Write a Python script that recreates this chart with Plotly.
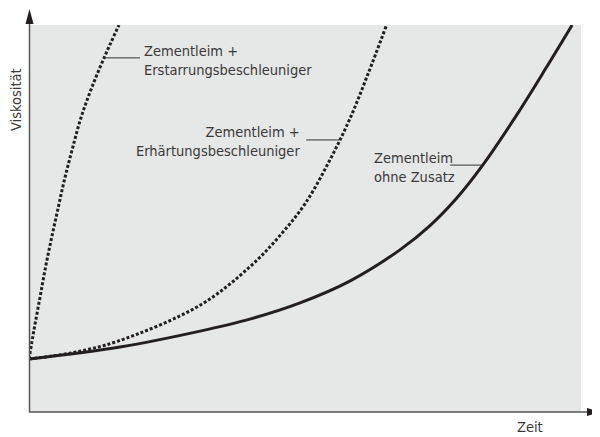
import plotly.graph_objects as go

# Data (arbitrary units: time 0-100, viscosity 0-100)
# Zementleim ohne Zusatz
t_ohne = [0, 16.5, 31.0, 40.0, 49.1, 58.2, 67.2, 72.6, 77.5, 82.1, 88.6, 93.8, 98.4]
v_ohne = [13.7, 16.8, 20.9, 24.0, 28.2, 33.9, 41.9, 48.1, 55.3, 63.6, 77.3, 89.2, 100]

# Zementleim + Erhärtungsbeschleuniger
t_erh = [0, 7.4, 16.1, 31.0, 40.0, 45.1, 50.0, 54.5, 58.2, 61.4, 64.7]
v_erh = [13.7, 15.2, 18.3, 27.6, 37.5, 45.0, 53.8, 65.1, 76.0, 87.3, 99.7]

# Zementleim + Erstarrungsbeschleuniger
t_ers = [0, 0.9, 1.9, 2.9, 4.0, 5.2, 6.4, 7.8, 9.3, 11.2, 13.6, 16.3]
v_ers = [13.7, 21.2, 28.9, 36.7, 44.4, 52.2, 59.9, 67.7, 75.5, 83.2, 91.5, 100]

labels = [
    "Zementleim +<br>Erstarrungsbeschleuniger",
    "Zementleim +<br>Erhärtungsbeschleuniger",
    "Zementleim<br>ohne Zusatz",
]
x_title = "Zeit"
y_title = "Viskosität"

INK = "#231f20"
TXT = "#3a3a3a"
FONT = "DejaVu Sans Condensed, Liberation Sans Narrow, Roboto, sans-serif"

# page-pixel geometry of the plot area (page has an 8px body margin)
OFF = 8
L, R, T, B = 29, 581, 25, 412
W, H = float(R - L), float(B - T)


def px(x):
    return (x - L) / W


def py(y):
    return (B - y) / H


fig = go.Figure()
fig.add_trace(go.Scatter(x=t_ohne, y=v_ohne, mode="lines",
                         line=dict(color=INK, width=3, shape="spline", smoothing=1)))
fig.add_trace(go.Scatter(x=t_erh, y=v_erh, mode="lines",
                         line=dict(color=INK, width=3, dash="3px,2px", shape="spline", smoothing=1)))
fig.add_trace(go.Scatter(x=t_ers, y=v_ers, mode="lines",
                         line=dict(color=INK, width=3, dash="3px,2px", shape="spline", smoothing=1)))

lab_font = dict(family=FONT, size=14.5, color=TXT)
fig.add_annotation(x=20.5, y=90.7, text=labels[0], xanchor="left", yanchor="middle",
                   showarrow=False, align="left", font=lab_font)
fig.add_annotation(x=49.5, y=70.0, text=labels[1], xanchor="right", yanchor="middle",
                   showarrow=False, align="right", font=lab_font)
fig.add_annotation(x=62.1, y=63.3, text=labels[2], xanchor="left", yanchor="middle",
                   showarrow=False, align="left", font=lab_font)

# leader lines
lc = dict(color="#333333", width=1)
fig.add_shape(type="line", x0=13.6, x1=20.1, y0=91.5, y1=91.5, line=lc)
fig.add_shape(type="line", x0=50.2, x1=56.3, y0=70.3, y1=70.3, line=lc)
fig.add_shape(type="line", x0=76.3, x1=82.1, y0=63.8, y1=63.8, line=lc)

# Axes with arrows
ax = dict(color="#555555", width=1.5)
fig.add_shape(type="line", xref="paper", yref="paper", x0=px(29.5), x1=px(29.5),
              y0=0, y1=py(22), line=ax)
fig.add_shape(type="line", xref="paper", yref="paper", x0=0, x1=px(590),
              y0=0, y1=0, line=ax)
fig.add_shape(type="path", xref="paper", yref="paper",
              path=f"M {px(25.5)} {py(24)} L {px(29.5)} {py(9)} L {px(33.5)} {py(24)} Z",
              fillcolor=INK, line=dict(width=0))
fig.add_shape(type="path", xref="paper", yref="paper",
              path=f"M {px(587)} {py(408)} L {px(600)} {py(412)} L {px(587)} {py(416)} Z",
              fillcolor=INK, line=dict(width=0))

ax_font = dict(family=FONT, size=14.5, color=TXT)
fig.add_annotation(xref="paper", yref="paper", x=px(16), y=py(100), text=y_title,
                   textangle=-90, showarrow=False, xanchor="center", yanchor="middle",
                   font=ax_font)
fig.add_annotation(xref="paper", yref="paper", x=px(530), y=py(427), text=x_title,
                   showarrow=False, xanchor="center", yanchor="middle", font=ax_font)

fig.update_xaxes(range=[0, 100], showgrid=False, zeroline=False, showticklabels=False,
                 ticks="", showline=False, fixedrange=True)
fig.update_yaxes(range=[0, 100], showgrid=False, zeroline=False, showticklabels=False,
                 ticks="", showline=False, fixedrange=True)

fig.update_layout(
    width=600 - OFF, height=437 - OFF, autosize=False,
    margin=dict(l=L - OFF, r=600 - R, t=T - OFF, b=437 - B),
    plot_bgcolor="#e6e7e7", paper_bgcolor="white",
    showlegend=False,
    font=dict(family=FONT, size=15, color=TXT),
)

fig.write_html("out.html")
